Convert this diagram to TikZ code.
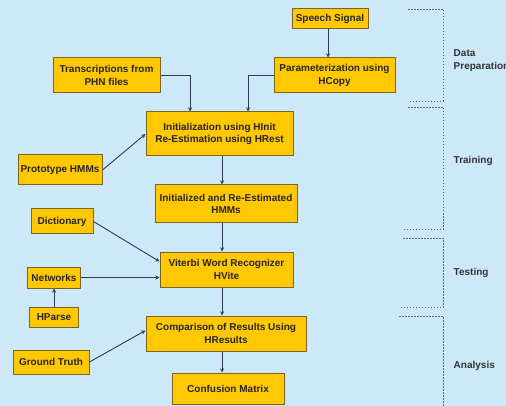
\documentclass[tikz,border=0pt]{standalone}
\usepackage{fontspec}
\setmainfont{Liberation Sans}
\usepackage{xcolor}
\definecolor{bgblue}{HTML}{CDE8F8}
\definecolor{boxfill}{HTML}{FFC800}
\definecolor{boxline}{HTML}{7A6420}
\definecolor{arrowcol}{HTML}{2E3B55}
\definecolor{phasecol}{HTML}{5A6A80}

\begin{document}
\begin{tikzpicture}[x=1pt,y=-1pt,->,>=stealth,shorten >=0pt,thick,
    box/.style={rectangle,draw=boxline,fill=boxfill,line width=1pt,align=center,inner sep=1pt,
        text=black!85,font=\fontsize{10}{12.5}\selectfont\bfseries},
    phase/.style={anchor=west,align=left,text=black!80,font=\fontsize{10}{12.5}\selectfont\bfseries},
    bracket/.style={-,draw=phasecol,line width=0.8pt,dash pattern=on 1.5pt off 1.5pt}]
    \fill[bgblue] (0,0) rectangle (506,406);
    \clip (0,0) rectangle (506,406);

    % main column
    \coordinate (spine) at (222,0);
    \node[box,minimum width=76pt,minimum height=20pt] (sig) at (330,19) {Speech Signal};
    \node[box,minimum width=121pt,minimum height=35pt] (par) at (334.5,75.5) {Parameterization using\\HCopy};
    \node[box,minimum width=107pt,minimum height=35pt] (trn) at (106.5,75.5) {Transcriptions from\\PHN files};
    \node[box,minimum width=147pt,minimum height=44pt] (ini) at (219.5,134) {Initialization using HInit\\Re-Estimation using HRest};
    \node[box,minimum width=84pt,minimum height=30pt] (pro) at (60,170) {Prototype HMMs};
    \node[box,minimum width=142pt,minimum height=38pt] (est) at (226,204) {Initialized and Re-Estimated\\HMMs};
    \node[box,minimum width=62pt,minimum height=25pt] (dic) at (62,221.5) {Dictionary};
    \node[box,minimum width=133pt,minimum height=35pt] (vit) at (226.5,269.5) {Viterbi Word Recognizer\\HVite};
    \node[box,minimum width=53pt,minimum height=21pt] (net) at (54,277.5) {Networks};
    \node[box,minimum width=49pt,minimum height=20pt] (hpa) at (54,317) {HParse};
    \node[box,minimum width=160pt,minimum height=35pt] (cmp) at (226,333.5) {Comparison of Results Using\\HResults};
    \node[box,minimum width=76pt,minimum height=24pt] (gnd) at (51,362) {Ground Truth};
    \node[box,minimum width=112pt,minimum height=31pt] (cfm) at (228,388.5) {Confusion Matrix};

    \path[every edge/.style={draw=arrowcol,line width=0.9pt,->}]
        ([xshift=-2pt]sig.south) edge ([xshift=-2pt]sig.south |- par.north)
        (pro.east) edge (ini.west)
        (ini.south -| spine) edge (est.north -| spine)
        (est.south -| spine) edge (vit.north -| spine)
        (dic.east) edge ([yshift=8pt]vit.west)
        (net.east) edge ([yshift=-8pt]vit.west)
        (hpa) edge (net)
        (vit.south -| spine) edge (cmp.north -| spine)
        (gnd.east) edge ([yshift=3pt]cmp.west)
        (cmp.south -| spine) edge (cfm.north -| spine)
        ;
    \draw[draw=arrowcol,line width=0.9pt] (par.west) -| ([xshift=28.5pt]ini.north);
    \draw[draw=arrowcol,line width=0.9pt] (trn.east) -| ([xshift=-29.5pt]ini.north);

    % phases
    \draw[bracket] (408,9) -- (443,9) -- (443,101) -- (408,101);
    \draw[bracket] (408,107) -- (443,107) -- (443,229) -- (403,229);
    \draw[bracket] (403,238) -- (443,238) -- (443,307) -- (401,307);
    \draw[bracket] (399,316) -- (443,316) -- (443,410);
    \node[phase] (prep) at (450,60.5) {Data\\Preparation};
    \node[phase] (train) at (450,161) {Training};
    \node[phase] (test) at (450,273) {Testing};
    \node[phase] (anal) at (450,366) {Analysis};
\end{tikzpicture}
\end{document}
